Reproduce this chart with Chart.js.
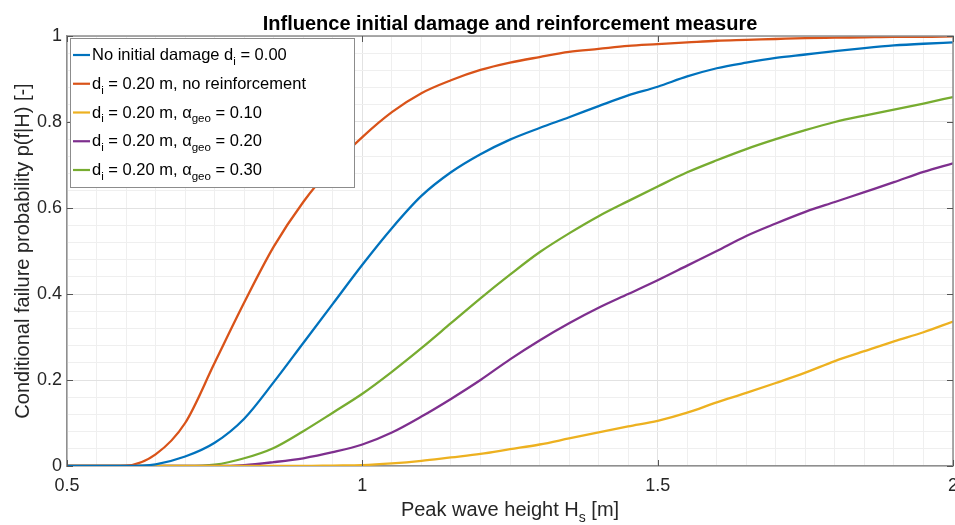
<!DOCTYPE html>
<html>
<head>
<meta charset="utf-8">
<script src="https://cdn.jsdelivr.net/npm/chart.js@4.4.1/dist/chart.umd.min.js"></script>
<style>
  html, body { margin: 0; padding: 0; background: #fff; overflow: hidden; }
  #wrap { width: 955px; height: 525px; position: relative; }
</style>
</head>
<body>
<div id="wrap"><canvas id="chart"></canvas></div>
<script>
/* ---------- Data: peak wave height vs. conditional failure probability ---------- */
const hs = [0.50, 0.55, 0.60, 0.65, 0.70, 0.75, 0.80, 0.85, 0.90, 0.95,
            1.00, 1.05, 1.10, 1.15, 1.20, 1.25, 1.30, 1.35, 1.40, 1.45,
            1.50, 1.55, 1.60, 1.65, 1.70, 1.75, 1.80, 1.85, 1.90, 1.95, 2.00];

const pNoDamage = [0, 0, 0, 0.004, 0.022, 0.054, 0.110, 0.195, 0.286, 0.377,
                   0.468, 0.553, 0.628, 0.683, 0.725, 0.759, 0.786, 0.811, 0.837, 0.862,
                   0.882, 0.906, 0.925, 0.938, 0.949, 0.957, 0.965, 0.972, 0.978, 0.982, 0.985];
const pNoReinf  = [0, 0, 0.001, 0.027, 0.100, 0.240, 0.380, 0.510, 0.614, 0.697,
                   0.765, 0.823, 0.867, 0.897, 0.921, 0.938, 0.951, 0.963, 0.970, 0.977,
                   0.981, 0.985, 0.989, 0.991, 0.993, 0.995, 0.996, 0.997, 0.998, 0.998, 0.999];
const pGeo10    = [0, 0, 0, 0, 0, 0, 0, 0, 0, 0.001,
                   0.002, 0.006, 0.012, 0.020, 0.028, 0.039, 0.050, 0.064, 0.078, 0.092,
                   0.105, 0.124, 0.148, 0.170, 0.193, 0.217, 0.244, 0.267, 0.290, 0.311, 0.336];
const pGeo20    = [0, 0, 0, 0, 0, 0, 0.002, 0.009, 0.018, 0.032,
                   0.050, 0.078, 0.115, 0.156, 0.200, 0.248, 0.292, 0.332, 0.368, 0.400,
                   0.432, 0.466, 0.500, 0.535, 0.564, 0.591, 0.614, 0.637, 0.660, 0.684, 0.704];
const pGeo30    = [0, 0, 0, 0, 0, 0.003, 0.018, 0.042, 0.081, 0.124,
                   0.168, 0.219, 0.274, 0.332, 0.390, 0.445, 0.497, 0.541, 0.581, 0.616,
                   0.650, 0.683, 0.711, 0.737, 0.760, 0.781, 0.800, 0.815, 0.829, 0.843, 0.858];

const seriesNames = [
  "No initial damage d_i = 0.00",
  "d_i = 0.20 m, no reinforcement",
  "d_i = 0.20 m, α_geo = 0.10",
  "d_i = 0.20 m, α_geo = 0.20",
  "d_i = 0.20 m, α_geo = 0.30"
];
const xTicks = [0.5, 1, 1.5, 2];
const yTicks = [0, 0.2, 0.4, 0.6, 0.8, 1];

const chartTitle = "Influence initial damage and reinforcement measure";
const xTitle = "Peak wave height H_s [m]";
const yTitle = "Conditional failure probability p(f|H) [-]";

/* ---------- Style ---------- */
const colors = ["#0072BD", "#D95319", "#EDB120", "#7E2F8E", "#77AC30"];
const FONT = "'Liberation Sans', Arial, Helvetica, sans-serif";
const AXIS_GRAY = "#8f8f8f";

/* ---------- Helpers ---------- */
const isMajor = (v, list) => list.some(t => Math.abs(t - v) < 1e-6);
const fmt = (v) => String(+v.toFixed(2));

// text with "_sub" parts drawn as subscripts
function richParts(str) {
  return str.split(/_(\w+)/).map((t, i) => ({ t, sub: i % 2 === 1 })).filter(p => p.t);
}
function richWidth(ctx, parts, size) {
  let w = 0;
  parts.forEach(p => {
    ctx.font = `${p.sub ? size * 0.7 : size}px ${FONT}`;
    w += ctx.measureText(p.t).width;
  });
  return w;
}
function drawRich(ctx, str, x, y, size, align) {
  const parts = richParts(str);
  let cx = align === "center" ? x - richWidth(ctx, parts, size) / 2 : x;
  ctx.textAlign = "left";
  ctx.textBaseline = "alphabetic";
  parts.forEach(p => {
    const s = p.sub ? size * 0.7 : size;
    ctx.font = `${s}px ${FONT}`;
    ctx.fillText(p.t, cx, p.sub ? y + size * 0.3 : y);
    cx += ctx.measureText(p.t).width;
  });
}

/* ---------- Frame, inward ticks, titles and legend ---------- */
const decorations = {
  id: "decorations",
  afterDatasetsDraw(chart) {
    const { ctx, chartArea: a, scales: { x, y } } = chart;
    ctx.save();

    // top / right axis lines
    ctx.strokeStyle = AXIS_GRAY;
    ctx.lineWidth = 1.5;
    ctx.beginPath();
    ctx.moveTo(a.left, a.top); ctx.lineTo(a.right, a.top); ctx.lineTo(a.right, a.bottom);
    ctx.stroke();

    // inward tick marks on all four sides
    ctx.strokeStyle = "#555";
    ctx.lineWidth = 1;
    ctx.beginPath();
    xTicks.forEach(v => {
      const px = Math.round(x.getPixelForValue(v)) + 0.5;
      ctx.moveTo(px, a.bottom); ctx.lineTo(px, a.bottom - 6);
      ctx.moveTo(px, a.top); ctx.lineTo(px, a.top + 6);
    });
    yTicks.forEach(v => {
      const py = Math.round(y.getPixelForValue(v)) + 0.5;
      ctx.moveTo(a.left, py); ctx.lineTo(a.left + 6, py);
      ctx.moveTo(a.right, py); ctx.lineTo(a.right - 6, py);
    });
    ctx.stroke();

    // chart title
    ctx.fillStyle = "#000";
    ctx.font = `bold 20px ${FONT}`;
    ctx.textAlign = "center";
    ctx.textBaseline = "alphabetic";
    ctx.fillText(chartTitle, (a.left + a.right) / 2, 30);

    // axis titles
    ctx.fillStyle = "#262626";
    drawRich(ctx, xTitle, (a.left + a.right) / 2, 516, 20, "center");
    ctx.save();
    ctx.translate(29, (a.top + a.bottom) / 2);
    ctx.rotate(-Math.PI / 2);
    drawRich(ctx, yTitle, 0, 0, 20, "center");
    ctx.restore();

    // legend box
    const box = { l: 70.5, t: 38.5, r: 354.5, b: 187.5 };
    ctx.fillStyle = "#fff";
    ctx.fillRect(box.l, box.t, box.r - box.l, box.b - box.t);
    ctx.strokeStyle = "#8c8c8c";
    ctx.lineWidth = 1;
    ctx.strokeRect(box.l, box.t, box.r - box.l, box.b - box.t);

    chart.data.datasets.forEach((ds, i) => {
      const base = 60 + i * 28.75;
      ctx.strokeStyle = ds.borderColor;
      ctx.lineWidth = 2.2;
      ctx.beginPath();
      ctx.moveTo(73, base - 5); ctx.lineTo(90, base - 5);
      ctx.stroke();
      ctx.fillStyle = "#000";
      drawRich(ctx, ds.label, 92, base, 16.5, "left");
    });

    ctx.restore();
  }
};

/* ---------- Chart ---------- */
const datasets = [pNoDamage, pNoReinf, pGeo10, pGeo20, pGeo30].map((vals, i) => ({
  label: seriesNames[i],
  data: vals.map((p, k) => ({ x: hs[k], y: p })),
  borderColor: colors[i],
  backgroundColor: colors[i],
  borderWidth: 2.3,
  pointRadius: 0,
  cubicInterpolationMode: "monotone",
  fill: false
}));

const gridColor = (list) => (c) => (c.tick && isMajor(c.tick.value, list)) ? "#e2e2e2" : "#efefef";

new Chart(document.getElementById("chart"), {
  type: "line",
  data: { datasets },
  plugins: [decorations],
  options: {
    responsive: true,
    maintainAspectRatio: false,
    animation: false,
    layout: { padding: { top: 36, right: 2, left: 0, bottom: 0 } },
    plugins: { legend: { display: false }, tooltip: { enabled: false } },
    scales: {
      x: {
        type: "linear",
        min: 0.5, max: 2,
        ticks: {
          stepSize: 0.05, autoSkip: false, maxRotation: 0, padding: 9,
          color: "#262626", font: { family: FONT, size: 18 },
          callback: (v) => isMajor(v, xTicks) ? fmt(v) : ""
        },
        grid: { color: gridColor(xTicks), drawTicks: false, lineWidth: 1 },
        border: { display: true, color: AXIS_GRAY, width: 1.5 },
        afterFit: (s) => { s.height = 59; s.paddingLeft = 0; s.paddingRight = 0; }
      },
      y: {
        min: 0, max: 1,
        ticks: {
          stepSize: 0.04, autoSkip: false, padding: 5,
          color: "#262626", font: { family: FONT, size: 18 },
          callback: (v) => isMajor(v, yTicks) ? fmt(v) : ""
        },
        grid: { color: gridColor(yTicks), drawTicks: false, lineWidth: 1 },
        border: { display: true, color: AXIS_GRAY, width: 1.5 },
        afterFit: (s) => { s.width = 67; s.paddingTop = 0; s.paddingBottom = 0; }
      }
    }
  }
});
</script>
</body>
</html>
